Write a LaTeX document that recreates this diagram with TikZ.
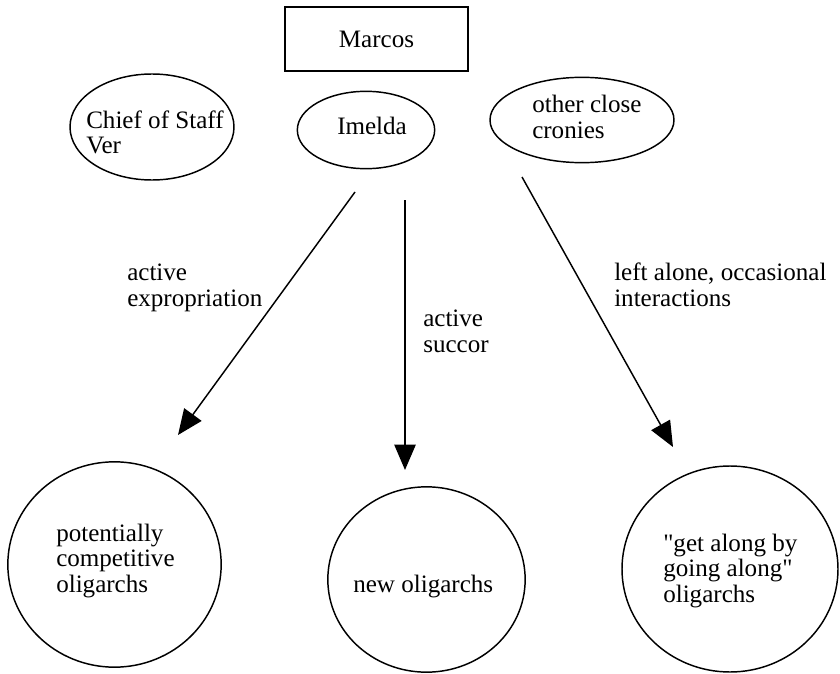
\documentclass[tikz,border=0pt]{standalone}
\usepackage{fontspec}
\setmainfont{Liberation Serif}
\usetikzlibrary{shapes.geometric,arrows.meta}

\begin{document}
\begin{tikzpicture}[x=0.75pt,y=-0.75pt,
  every node/.style={font=\fontsize{18.8}{18.8}\selectfont},
  oval/.style={draw,ellipse,line width=1.1pt,inner sep=0pt},
  txt/.style={align=left,anchor=base west,inner sep=0pt},
  arr/.style={line width=1.1pt,-{Triangle[length=19pt,width=16pt]}}]
\useasboundingbox (0,0) rectangle (840,674);

\node[draw,line width=1.1pt,minimum width=137pt,minimum height=48pt] (marcos) at (376.5,39) {Marcos};

\node[oval,minimum width=123pt,minimum height=79.5pt] (chief) at (152,127) {};
\node[oval,minimum width=103pt,minimum height=58pt] (imelda) at (366,130) {};
\node[oval,minimum width=138pt,minimum height=64pt] (cronies) at (582,120) {};
\node[txt] (chief-t) at (86,154) {Chief of Staff\\Ver};
\node[txt] (imelda-t) at (337,135) {Imelda};
\node[txt] (cronies-t) at (532,138) {other close\\cronies};

\node[oval,minimum width=160pt,minimum height=154pt] (rivals) at (114.5,564.5) {};
\node[oval,minimum width=148pt,minimum height=139pt] (newolig) at (426.5,579.5) {};
\node[oval,minimum width=162pt,minimum height=154.5pt] (goalong) at (730,569) {};
\node[txt] (rivals-t) at (56,592) {potentially\\competitive\\oligarchs};
\node[txt] (newolig-t) at (353,592) {new oligarchs};
\node[txt] (goalong-t) at (663,602) {\textquotedbl get along by\\going along\textquotedbl\\oligarchs};

% connectors
\coordinate (exp-s) at (355,192);
\coordinate (exp-e) at (178,435);
\coordinate (suc-s) at (405,200);
\coordinate (suc-e) at (405,470);
\coordinate (alone-s) at (522,177);
\coordinate (alone-e) at (673,447);
\draw[arr] (exp-s) -- (exp-e);
\draw[arr] (suc-s) -- (suc-e);
\draw[arr] (alone-s) -- (alone-e);

\node[txt] (exp-l) at (127,306) {active\\expropriation};
\node[txt] (suc-l) at (423,352) {active\\succor};
\node[txt] (alone-l) at (614,306) {left alone, occasional\\interactions};
\end{tikzpicture}
\end{document}
